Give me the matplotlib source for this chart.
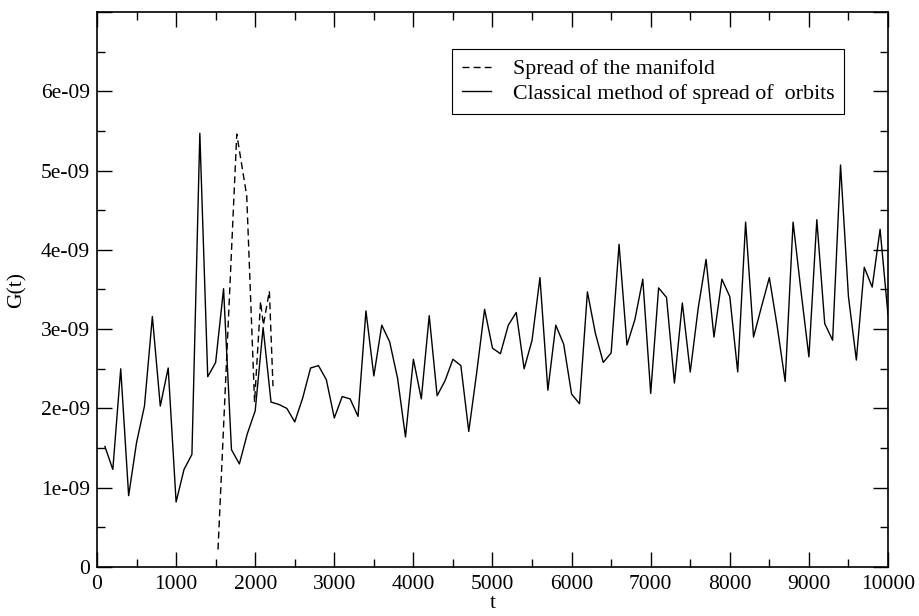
import numpy as np
import matplotlib
matplotlib.use("Agg")
import matplotlib.pyplot as plt
from matplotlib.ticker import MultipleLocator, FuncFormatter

plt.rcParams['font.family'] = ['Liberation Serif', 'DejaVu Serif']

# classical method: sampled every 100 time units
t_orbit = np.arange(100, 10001, 100)
g_orbit = [1.52, 1.23, 2.50, 0.90, 1.57, 2.03, 3.16, 2.03, 2.51, 0.82,
           1.23, 1.42, 5.47, 2.40, 2.58, 3.51, 1.48, 1.30, 1.68, 1.97,
           3.02, 2.08, 2.05, 2.00, 1.83, 2.13, 2.51, 2.54, 2.36, 1.88,
           2.15, 2.12, 1.90, 3.23, 2.41, 3.05, 2.84, 2.38, 1.64, 2.62,
           2.12, 3.17, 2.16, 2.35, 2.62, 2.54, 1.71, 2.45, 3.25, 2.76,
           2.69, 3.05, 3.21, 2.50, 2.86, 3.65, 2.23, 3.05, 2.81, 2.18,
           2.06, 3.47, 2.95, 2.58, 2.70, 4.07, 2.80, 3.12, 3.63, 2.19,
           3.52, 3.40, 2.32, 3.33, 2.46, 3.26, 3.88, 2.90, 3.63, 3.41,
           2.46, 4.35, 2.90, 3.28, 3.65, 3.03, 2.34, 4.35, 3.48, 2.65,
           4.38, 3.07, 2.86, 5.07, 3.41, 2.61, 3.78, 3.53, 4.26, 3.18]
g_orbit = np.array(g_orbit) * 1e-9

# spread of the manifold (short run)
t_manifold = [1530, 1767, 1893, 1992, 2068, 2103, 2179, 2225]
g_manifold = np.array([0.22, 5.46, 4.68, 2.08, 3.35, 3.05, 3.48, 2.28]) * 1e-9

labels = ["Spread of the manifold", "Classical method of spread of  orbits"]

fig = plt.figure(figsize=(9.2, 6.16), dpi=100)
ax = fig.add_axes([97/920, 1 - 567/616, 791/920, 555/616])

ax.plot(t_manifold, g_manifold, color='k', lw=1.0, dashes=(5, 3), label=labels[0])
ax.plot(t_orbit, g_orbit, color='k', lw=1.0, label=labels[1])

ax.set_xlim(0, 10000)
ax.set_ylim(0, 7e-9)
ax.xaxis.set_major_locator(MultipleLocator(1000))
ax.xaxis.set_minor_locator(MultipleLocator(500))
ax.yaxis.set_major_locator(MultipleLocator(1e-9))
ax.yaxis.set_minor_locator(MultipleLocator(0.5e-9))

def yfmt(v, pos):
    if abs(v) < 1e-15:
        return "0"
    if v > 6.5e-9:
        return ""   # no label at the top edge
    return "%.0e" % v

ax.yaxis.set_major_formatter(FuncFormatter(yfmt))
ax.tick_params(which='both', direction='in', top=True, right=True,
               labelsize=15.5, width=1.0)
ax.tick_params(which='major', length=11)
ax.tick_params(which='minor', length=5.5)
ax.tick_params(axis='x', pad=6)
ax.tick_params(axis='y', pad=5)
for s in ax.spines.values():
    s.set_linewidth(1.2)

ax.set_xlabel("t", fontsize=15.5, labelpad=0)
ax.set_ylabel("G(t)", fontsize=15.5, labelpad=10)

leg = ax.legend(loc='upper left', bbox_to_anchor=(0.449, 0.933), fontsize=15.8,
                fancybox=False, framealpha=1, edgecolor='k', handlelength=1.3,
                borderpad=0.45, labelspacing=0.2, handletextpad=1.0,
                borderaxespad=0)
leg.get_frame().set_linewidth(0.8)

fig.savefig("out.png", dpi=100)
